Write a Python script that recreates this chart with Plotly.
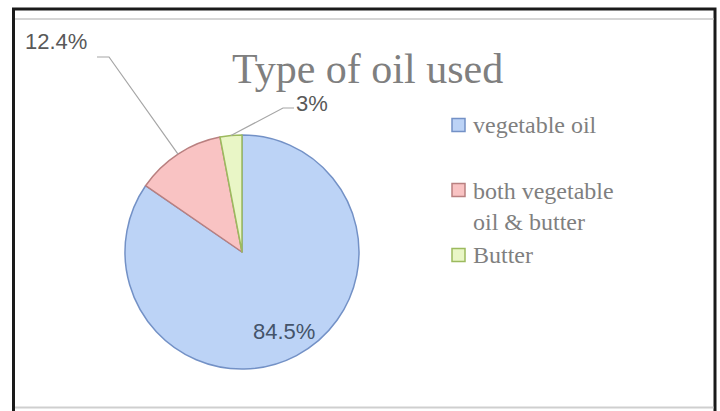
import math
import plotly.graph_objects as go

# ---- data ----
labels = ["vegetable oil", "both vegetable oil & butter", "Butter"]
legend_text = ["vegetable oil", "both vegetable<br>oil & butter", "Butter"]
values = [84.5, 12.4, 3]
pct_text = ["84.5%", "12.4%", "3%"]
title_text = "Type of oil used"

fill_colors = ["#bcd3f6", "#f9c3c3", "#e9f6c6"]
line_colors = ["#7391c6", "#b98080", "#9cba5e"]

W, H = 720, 411
def px(x):
    return x / W
def py(y):
    return 1 - y / H

# pie geometry (window pixels)
CX, CY, R = 242, 252, 117

fig = go.Figure()
fig.add_trace(go.Pie(
    labels=labels, values=values, sort=False, direction="clockwise", rotation=0,
    textinfo="none", hoverinfo="label+percent", showlegend=False,
    marker=dict(colors=fill_colors, line=dict(color=line_colors, width=1.5)),
    domain=dict(x=[px(CX - R), px(CX + R)], y=[py(CY + R), py(CY - R)]),
))

# slice mid angles (clockwise from 12 o'clock), from the data
total = sum(values)
mids = []
acc = 0
for v in values:
    mids.append((acc + v / 2) / total * 2 * math.pi)
    acc += v

def edge(i, frac=1.0):
    a = mids[i]
    return CX + frac * R * math.sin(a), CY - frac * R * math.cos(a)

shapes = []
annotations = []

# frame
shapes.append(dict(type="rect", xref="paper", yref="paper",
                   x0=px(13.5), x1=px(715), y0=py(420), y1=py(9),
                   line=dict(color="#1a1a1a", width=3)))
shapes.append(dict(type="line", xref="paper", yref="paper",
                   x0=px(15), x1=px(713.5), y0=py(19), y1=py(19),
                   line=dict(color="#d6d6d6", width=2)))
shapes.append(dict(type="line", xref="paper", yref="paper",
                   x0=px(15), x1=px(713.5), y0=py(407.5), y1=py(407.5),
                   line=dict(color="#cfcfcf", width=2)))

lab_font = dict(family="Liberation Sans", size=22, color="#595959")

def ann(x, y, text, font, xanchor="center"):
    annotations.append(dict(x=px(x), y=py(y), xref="paper", yref="paper",
                            text=text, showarrow=False, xanchor=xanchor,
                            yanchor="middle", align="left", font=font))

# label 0: inside
x0, y0 = edge(0, 0.77)
ann(x0, y0, pct_text[0], dict(family="Liberation Sans", size=22, color="#44546a"))

# label 1: outside top-left with leader
ex, ey = edge(1)
ann(56, 42, pct_text[1], lab_font)
shapes.append(dict(type="path", xref="paper", yref="paper",
                   path=f"M {px(97)} {py(57)} L {px(109)} {py(57)} L {px(ex)} {py(ey)}",
                   line=dict(color="#a6a6a6", width=1.2)))

# label 2: outside top with leader
ex, ey = edge(2)
ann(312, 103, pct_text[2], lab_font)
shapes.append(dict(type="path", xref="paper", yref="paper",
                   path=f"M {px(294)} {py(108)} L {px(283)} {py(108)} L {px(ex)} {py(ey)}",
                   line=dict(color="#a6a6a6", width=1.2)))

# title
ann(367, 69, title_text, dict(family="Liberation Serif", size=42, color="#7f7f7f"))

# legend (manual, to mimic spacing)
leg_font = dict(family="Liberation Serif", size=24, color="#7f7f7f")
leg_y = [125, 206.5, 255]
first_line_y = [125, 190, 255]
for i in range(len(labels)):
    ann(471, leg_y[i], legend_text[i], leg_font, xanchor="left")
    shapes.append(dict(type="rect", xref="paper", yref="paper",
                       x0=px(452), x1=px(465), y0=py(first_line_y[i] + 6.5),
                       y1=py(first_line_y[i] - 6.5),
                       fillcolor=fill_colors[i], line=dict(color=line_colors[i], width=1.5)))

fig.update_layout(
    width=W, height=H, margin=dict(l=0, r=0, t=0, b=0),
    paper_bgcolor="white", plot_bgcolor="white",
    shapes=shapes, annotations=annotations, showlegend=False,
)

fig.write_html("out.html",
               config={"displayModeBar": False},
               post_script="document.body.style.margin='0';document.body.style.overflow='hidden';")
